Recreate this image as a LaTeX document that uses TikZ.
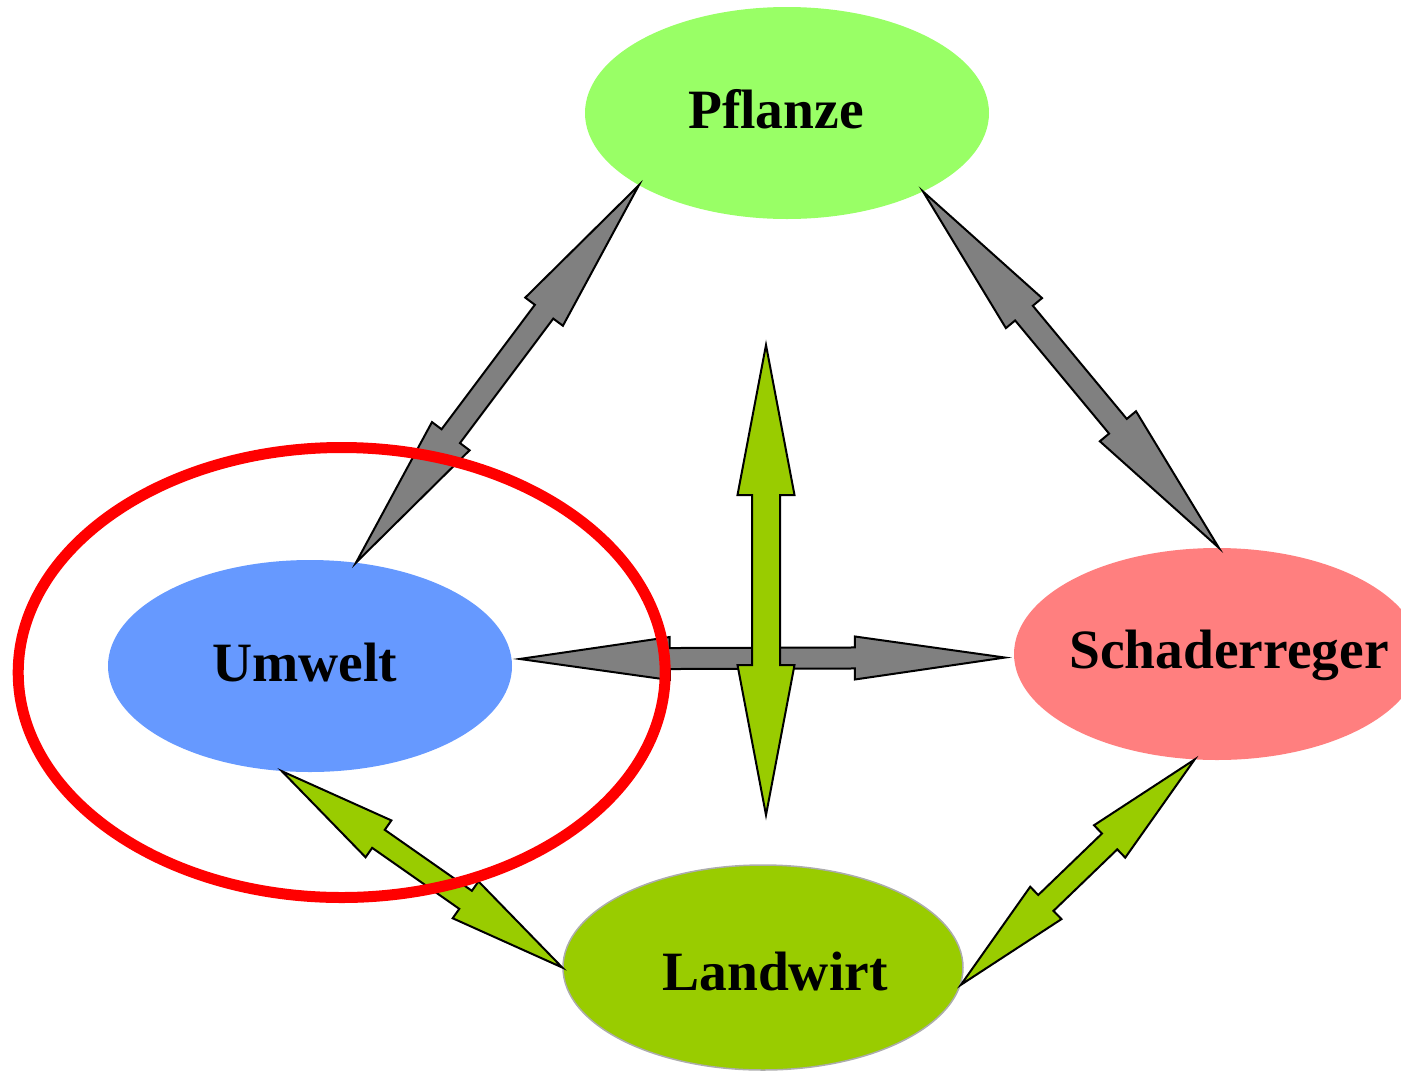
\documentclass[tikz,border=0pt]{standalone}
\usepackage{fontspec}
\setmainfont{Liberation Serif}
\usetikzlibrary{calc,shapes.geometric}

\definecolor{pflanzegruen}{HTML}{99FF66}
\definecolor{umweltblau}{HTML}{6699FF}
\definecolor{schadrot}{HTML}{FF7F7F}
\definecolor{landgruen}{HTML}{99CC00}
\definecolor{pfeilgrau}{HTML}{808080}

\tikzset{
  knoten/.style={ellipse, inner sep=0pt, minimum width=404pt, minimum height=212pt},
  beschr/.style={anchor=base, inner sep=0pt, font=\bfseries\fontsize{55.5}{60}\selectfont},
  grau/.style={fill=pfeilgrau, draw=black, line width=2pt, line join=miter},
  gruen/.style={fill=landgruen, draw=black, line width=2pt, line join=miter},
}

% Doppelpfeil: Stil, Spitze A, Spitze B, Kopflaenge, halbe Kopfbreite, halbe Schaftbreite
\newcommand{\doppelpfeil}[6]{%
  \path (#2) coordinate (pa) (#3) coordinate (pb);
  \filldraw[#1] (pa)
    -- ($(pa)!#4!(pb)!#5!90:(pb)$)
    -- ($(pa)!#4!(pb)!#6!90:(pb)$)
    -- ($(pb)!#4!(pa)!#6!-90:(pa)$)
    -- ($(pb)!#4!(pa)!#5!-90:(pa)$)
    -- (pb)
    -- ($(pb)!#4!(pa)!#5!90:(pa)$)
    -- ($(pb)!#4!(pa)!#6!90:(pa)$)
    -- ($(pa)!#4!(pb)!#6!-90:(pb)$)
    -- ($(pa)!#4!(pb)!#5!-90:(pb)$)
    -- cycle;}

\begin{document}
\begin{tikzpicture}[x=1pt, y=-1pt]

\useasboundingbox (0,0) rectangle (1401,1072);

% Ellipsen

\node [knoten, fill=pflanzegruen] (pfl) at (787,113) {};
\node [knoten, fill=umweltblau] (umw) at (310,666) {};
\node [knoten, fill=schadrot, minimum width=406pt] (sch) at (1217,654) {};
\node [knoten, fill=landgruen, draw=gray!65, line width=1.5pt,
       minimum width=400pt, minimum height=205pt] (lan) at (763,967.5) {};

% Beschriftungen

\node [beschr] (pfl-t) at (776,128) {Pflanze};
\node [beschr] (umw-t) at (305,681) {Umwelt};
\node [beschr] (sch-t) at (1229,668) {Schaderreger};
\node [beschr] (lan-t) at (775,990) {Landwirt};

% Pfeile

\foreach \a/\b in {pfl.206.6/umw.66, pfl.330.4/sch.89.5}
  \doppelpfeil{grau}{\a}{\b}{158pt}{23.5pt}{11.5pt};

\doppelpfeil{grau}{[xshift=8pt]umw.2}{[xshift=-9pt]sch.181.4}{150pt}{21.5pt}{10.5pt};

\coordinate (mitte-oben) at (766,345);
\coordinate (mitte-unten) at (766,815);
\doppelpfeil{gruen}{mitte-oben}{mitte-unten}{150pt}{28.5pt}{14pt};

\foreach \a/\b in {umw.255.7/lan.180.8, lan.355.5/sch.258.6}
  \doppelpfeil{gruen}{\a}{\b}{118pt}{22.5pt}{11pt};

% Markierung

\node [ellipse, draw=red, line width=11pt, inner sep=0pt,
       minimum width=647pt, minimum height=450pt] (fokus) at (341.7,672.5) {};

\end{tikzpicture}
\end{document}
